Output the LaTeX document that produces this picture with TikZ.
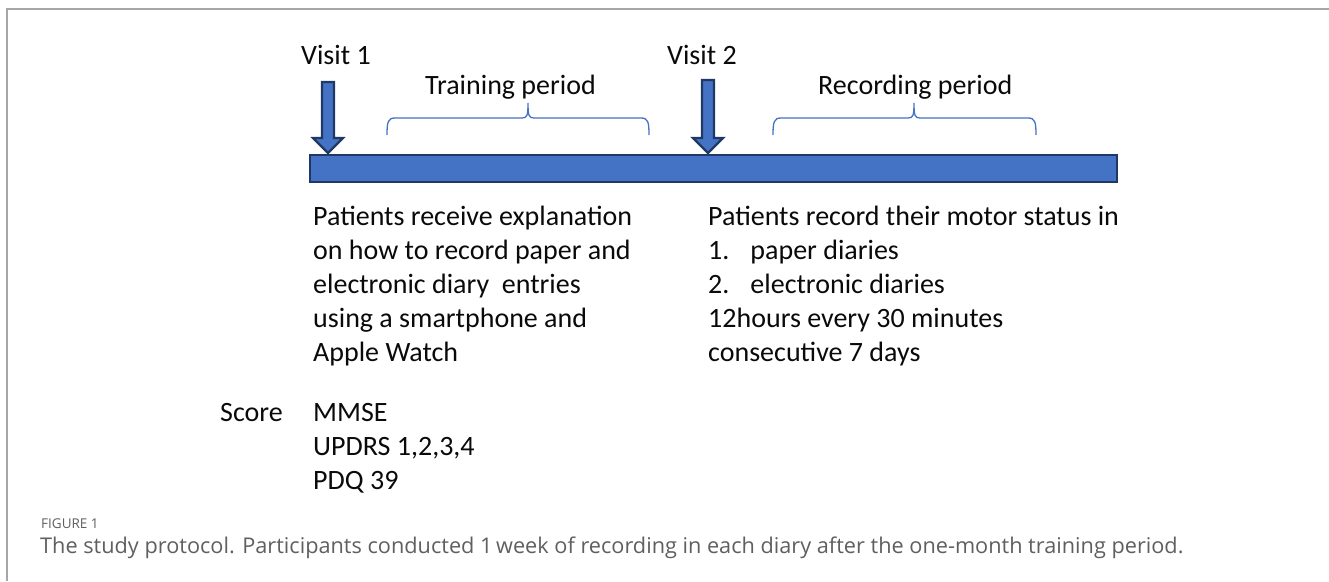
\documentclass[tikz,border=0pt]{standalone}
\usepackage{fontspec}
\setmainfont{Carlito}
\newfontfamily\captionfont{Open Sans}
\usepackage{tikz}
\definecolor{ProtocolBlue}{HTML}{4472C4}
\definecolor{ProtocolNavy}{HTML}{1F3864}
\definecolor{ProtocolText}{HTML}{0A0A0A}
\definecolor{ProtocolFrame}{HTML}{A6A6A6}
\definecolor{ProtocolCaption}{HTML}{5F5F5F}

\begin{document}
\begin{tikzpicture}[x=1pt,y=-1pt,
    bodytext/.style={text=ProtocolText,inner sep=0pt,anchor=base west,align=left,
      font=\fontsize{28}{34}\selectfont},
    visitarrow/.style={fill=ProtocolBlue,draw=ProtocolNavy,line width=2.2pt,line join=miter},
    periodbrace/.style={draw=ProtocolBlue,line width=1.3pt}]
      \useasboundingbox (0,0) rectangle (1329,581);
      % frame of the figure
      \draw[ProtocolFrame,line width=2pt] (7,581) -- (7,9) -- (1329,9);
      % time line
      \draw[fill=ProtocolBlue,draw=ProtocolNavy,line width=2.5pt] (310,155) rectangle (1117,182);
      \foreach \x/\y in {328/82,708/80} {
        \draw[visitarrow] (\x-6,\y) -- (\x+6,\y) -- (\x+6,138) -- (\x+15,138)
          -- (\x,153) -- (\x-15,138) -- (\x-6,138) -- cycle;
      }
      \foreach \l/\m/\r in {387/528/649,773/914/1036} {
        \draw[periodbrace] (\l,135) .. controls (\l,122) and (\l+1,118) .. (\l+8,118)
          -- (\m-6,118) .. controls (\m-1,118) and (\m,116) .. (\m,103)
          .. controls (\m,116) and (\m+1,118) .. (\m+6,118)
          -- (\r-8,118) .. controls (\r-1,118) and (\r,122) .. (\r,135);
      }
      \node[bodytext] (visitone) at (301,64) {Visit 1};
      \node[bodytext] (visittwo) at (667,64) {Visit 2};
      \node[bodytext] (training) at (425,94) {Training period};
      \node[bodytext] (recording) at (818,94) {Recording period};
      % multi-line nodes sit on the baseline of their last line
      \node[bodytext] (explain) at (313,361) {Patients receive explanation\\on how to record paper and\\electronic diary\ \ entries\\using a smartphone and\\Apple Watch};
      \node[bodytext] (record) at (708,361) {Patients record their motor status in\\1.\hspace{0.75em}paper diaries\\2.\hspace{0.75em}electronic diaries\\12hours every 30 minutes\\consecutive 7 days};
      \node[bodytext] (score) at (220,421) {Score};
      \node[bodytext] (scales) at (313,489) {MMSE\\UPDRS 1,2,3,4\\PDQ 39};
      % caption
      \node[text=ProtocolCaption,inner sep=0pt,anchor=base west,font=\captionfont\fontsize{13.5}{13.5}\selectfont] (figlabel) at (41,528) {FIGURE 1};
      \node[text=ProtocolCaption,inner sep=0pt,anchor=base west,font=\captionfont\fontsize{21.7}{21.7}\selectfont] (caption) at (40,553) {The study protocol. Participants conducted 1\,week of recording in each diary after the one-month training period.};
    \end{tikzpicture}
\end{document}
